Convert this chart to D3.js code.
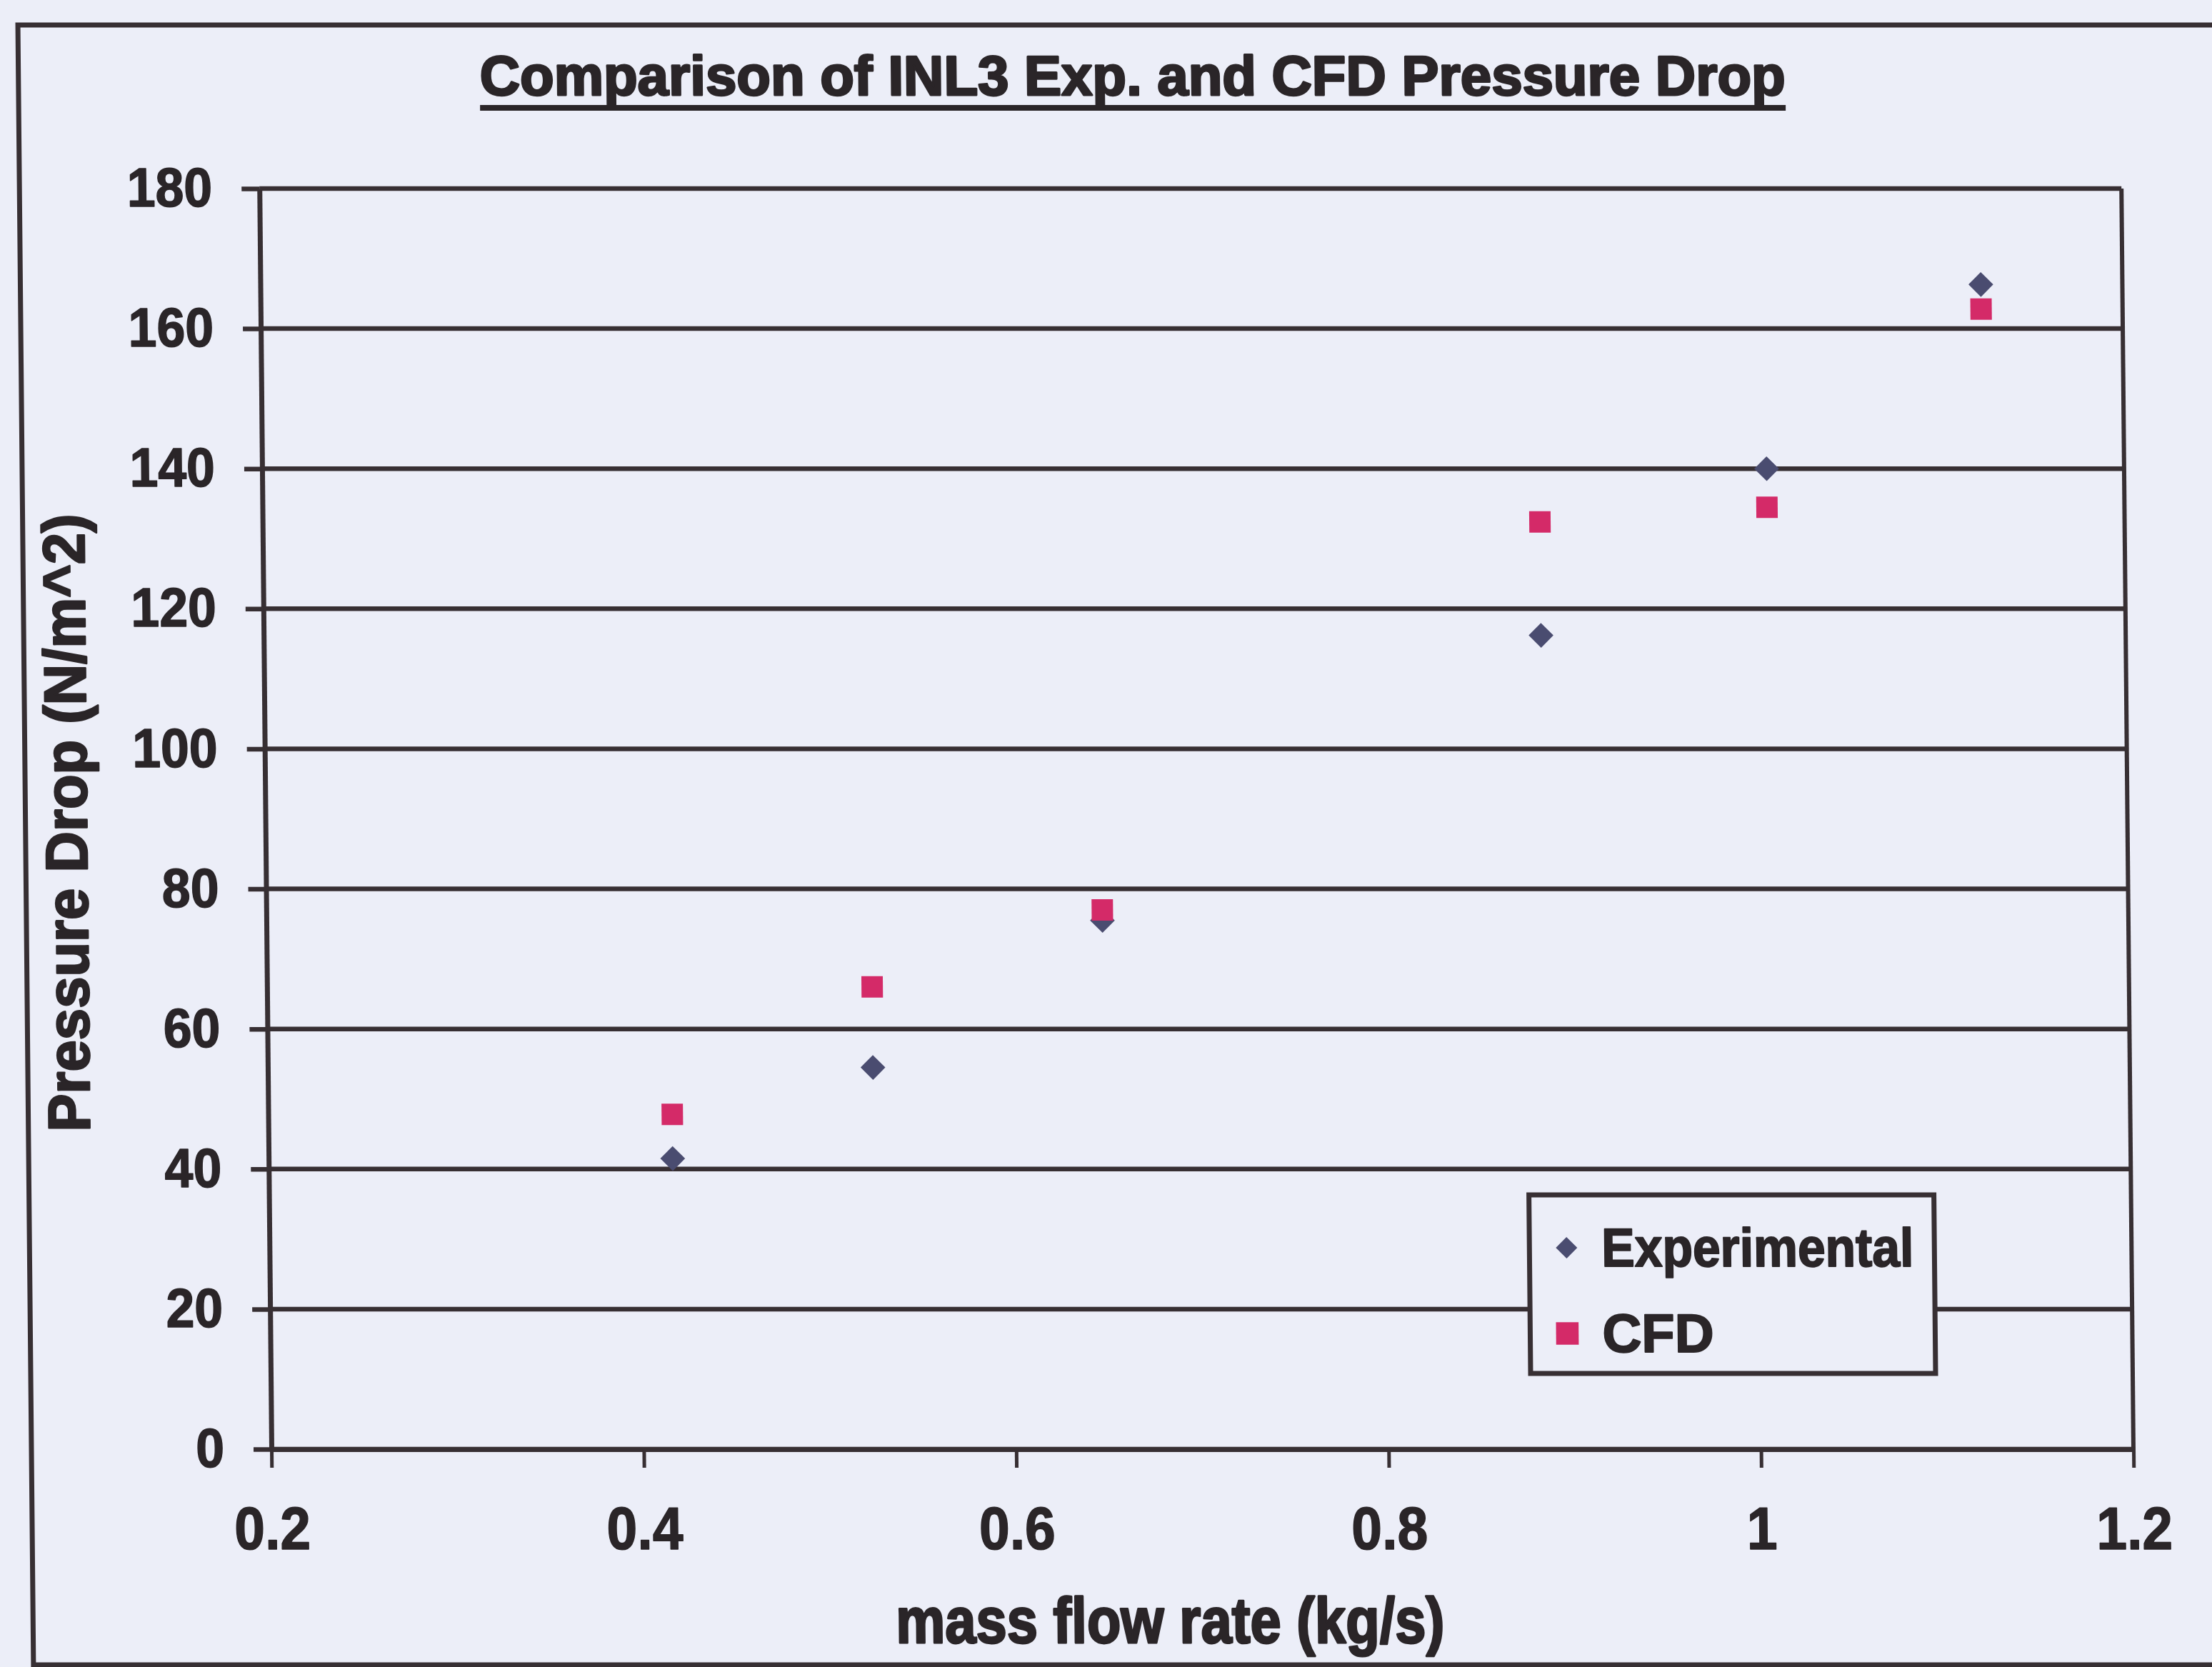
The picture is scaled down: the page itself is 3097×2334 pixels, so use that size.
<!DOCTYPE html>
<html>
<head>
<meta charset="utf-8">
<script src="https://cdn.jsdelivr.net/npm/d3@7"></script>
<style>
  html, body { margin: 0; padding: 0; background: #eceef8; }
  svg { display: block; }
</style>
</head>
<body>
<script>
// ---- data ----
const flowRate     = [0.417, 0.525, 0.649, 0.886, 1.008, 1.124];   // kg/s
const experimental = [41.5, 54.5, 75.5, 116.2, 140.0, 166.3];      // N/m^2
const cfd          = [47.8, 66.0, 77.0, 132.4, 134.5, 162.8];      // N/m^2
const seriesNames  = ["Experimental", "CFD"];
const xTickValues  = [0.2, 0.4, 0.6, 0.8, 1, 1.2];
const yTickValues  = [0, 20, 40, 60, 80, 100, 120, 140, 160, 180];
const chartTitle   = "Comparison of INL3 Exp. and CFD Pressure Drop";
const xAxisTitle   = "mass flow rate (kg/s)";
const yAxisTitle   = "Pressure Drop (N/m^2)";

// ---- layout ----
const W = 3097, H = 2334;
const plot = { left: 380, right: 2987, top: 264, bottom: 2029 };
const ink = "#372f33";
const textInk = "#2a2528";
const bg = "#eceef8";
const expColor = "#4a4c70";
const cfdColor = "#d42a68";
const font = "'Liberation Sans', Arial, Helvetica, sans-serif";

const svg = d3.select("body").append("svg")
  .attr("width", W).attr("height", H)
  .style("background", bg);

// the printed sheet leans slightly; shear everything about the x-axis line
const root = svg.append("g")
  .attr("transform", `translate(0,${plot.bottom}) skewX(0.545) translate(0,${-plot.bottom})`);

const x = d3.scaleLinear().domain([0.2, 1.2]).range([plot.left, plot.right]);
const y = d3.scaleLinear().domain([0, 180]).range([plot.bottom, plot.top]);

// outer chart frame
root.append("rect")
  .attr("x", 44).attr("y", 35)
  .attr("width", 3300).attr("height", 2296)
  .attr("fill", "none").attr("stroke", ink).attr("stroke-width", 7);

// horizontal gridlines
root.append("g").selectAll("line")
  .data(yTickValues)
  .join("line")
  .attr("x1", plot.left).attr("x2", plot.right)
  .attr("y1", d => y(d)).attr("y2", d => y(d))
  .attr("stroke", ink).attr("stroke-width", 6.5);

// right border of plot area
root.append("line")
  .attr("x1", plot.right).attr("x2", plot.right)
  .attr("y1", plot.top).attr("y2", plot.bottom)
  .attr("stroke", ink).attr("stroke-width", 6);

function squeeze(sel, k) {
  sel.each(function () {
    this.setAttribute("textLength", this.getComputedTextLength() * k);
    this.setAttribute("lengthAdjust", "spacingAndGlyphs");
  });
}

function heavy(sel, w) {
  sel.attr("stroke", textInk).attr("stroke-width", w).attr("stroke-linejoin", "round");
}

// y axis
const yAxis = root.append("g")
  .attr("transform", `translate(${plot.left},0)`)
  .call(d3.axisLeft(y).tickValues(yTickValues).tickSizeInner(25).tickSizeOuter(0).tickPadding(41)
    .tickFormat(d => String(d)));
yAxis.select(".domain").attr("stroke", ink).attr("stroke-width", 7);
yAxis.selectAll(".tick line").attr("stroke", ink).attr("stroke-width", 6.5);
yAxis.selectAll(".tick text")
  .attr("fill", textInk).attr("font-family", font).attr("font-weight", "bold").attr("font-size", 77)
  .call(heavy, 1.5)
  .call(squeeze, 0.93);

// x axis
const xAxis = root.append("g")
  .attr("transform", `translate(0,${plot.bottom})`)
  .call(d3.axisBottom(x).tickValues(xTickValues).tickSizeInner(26).tickSizeOuter(0).tickPadding(54)
    .tickFormat(d => String(d)));
xAxis.select(".domain").attr("stroke", ink).attr("stroke-width", 7);
xAxis.selectAll(".tick line").attr("stroke", ink).attr("stroke-width", 5);
xAxis.selectAll(".tick text")
  .attr("fill", textInk).attr("font-family", font).attr("font-weight", "bold").attr("font-size", 84)
  .call(heavy, 1.5)
  .call(squeeze, 0.915);

// markers
const diamond = d3.symbol().type(d3.symbolSquare).size(600);
const square  = d3.symbol().type(d3.symbolSquare).size(900);

const expPts = flowRate.map((f, i) => ({ f, v: experimental[i] }));
const cfdPts = flowRate.map((f, i) => ({ f, v: cfd[i] }));

root.append("g").selectAll("path")
  .data(expPts)
  .join("path")
  .attr("d", diamond)
  .attr("transform", d => `translate(${x(d.f)},${y(d.v)}) rotate(45)`)
  .attr("fill", expColor);

root.append("g").selectAll("path")
  .data(cfdPts)
  .join("path")
  .attr("d", square)
  .attr("transform", d => `translate(${x(d.f)},${y(d.v)})`)
  .attr("fill", cfdColor);

// title with underline
root.append("text")
  .attr("x", 1604).attr("y", 133)
  .attr("text-anchor", "middle")
  .attr("font-family", font).attr("font-weight", "bold").attr("font-size", 78)
  .attr("textLength", 1828).attr("lengthAdjust", "spacingAndGlyphs")
  .attr("fill", textInk)
  .call(heavy, 3)
  .text(chartTitle);
root.append("line")
  .attr("x1", 1604 - 914).attr("x2", 1604 + 914)
  .attr("y1", 151).attr("y2", 151)
  .attr("stroke", textInk).attr("stroke-width", 8);

// axis titles
root.append("text")
  .attr("transform", "translate(130,1152) rotate(-90)")
  .attr("text-anchor", "middle")
  .attr("font-family", font).attr("font-weight", "bold").attr("font-size", 83)
  .attr("textLength", 865).attr("lengthAdjust", "spacingAndGlyphs")
  .attr("fill", textInk)
  .call(heavy, 2.5)
  .text(yAxisTitle);

root.append("text")
  .attr("x", 1636).attr("y", 2300)
  .attr("text-anchor", "middle")
  .attr("font-family", font).attr("font-weight", "bold").attr("font-size", 90)
  .attr("textLength", 768).attr("lengthAdjust", "spacingAndGlyphs")
  .attr("fill", textInk)
  .call(heavy, 3)
  .text(xAxisTitle);

// legend
const legend = root.append("g");
legend.append("rect")
  .attr("x", 2144).attr("y", 1673)
  .attr("width", 2711 - 2144).attr("height", 1923 - 1673)
  .attr("fill", bg).attr("stroke", ink).attr("stroke-width", 7);

const legendRows = [
  { name: seriesNames[0], sym: d3.symbol().type(d3.symbolSquare).size(450), rot: 45, color: expColor, my: 1747, ty: 1773, len: 437 },
  { name: seriesNames[1], sym: d3.symbol().type(d3.symbolSquare).size(1000), rot: 0, color: cfdColor, my: 1867, ty: 1893, len: null }
];
legendRows.forEach(r => {
  legend.append("path")
    .attr("d", r.sym)
    .attr("transform", `translate(2196,${r.my}) rotate(${r.rot})`)
    .attr("fill", r.color);
  const t = legend.append("text")
    .attr("x", 2245).attr("y", r.ty)
    .attr("font-family", font).attr("font-weight", "bold").attr("font-size", 76)
    .attr("fill", textInk)
    .call(heavy, 2)
    .text(r.name);
  if (r.len) t.attr("textLength", r.len).attr("lengthAdjust", "spacingAndGlyphs");
});
</script>
</body>
</html>
